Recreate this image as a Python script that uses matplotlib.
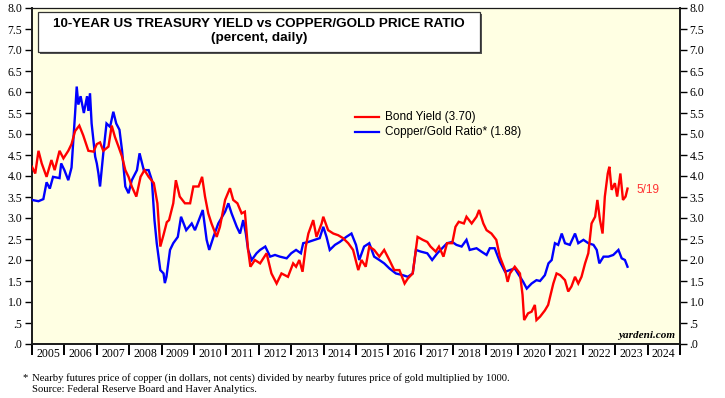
#!/usr/bin/env python3

import numpy as np
import matplotlib.pyplot as plt
from matplotlib.patches import Rectangle

# bond yield (percent), decimal year.
yield_t = [
    2005.0, 2005.1, 2005.2, 2005.3, 2005.45, 2005.6, 2005.7, 2005.85, 2005.97,
    2006.12, 2006.22, 2006.33, 2006.46, 2006.58, 2006.74, 2006.9,
    2007.0, 2007.1, 2007.2, 2007.36, 2007.46, 2007.56, 2007.67, 2007.78, 2007.88, 2007.98,
    2008.08, 2008.22, 2008.35, 2008.47, 2008.6, 2008.76, 2008.87, 2008.96,
    2009.06, 2009.16, 2009.23, 2009.36, 2009.44, 2009.56, 2009.72, 2009.88, 2009.98,
    2010.14, 2010.25, 2010.34, 2010.44, 2010.54, 2010.7, 2010.8, 2010.96,
    2011.11, 2011.21, 2011.34, 2011.47, 2011.57, 2011.67, 2011.74, 2011.88,
    2012.04, 2012.24, 2012.39, 2012.55, 2012.7, 2012.9,
    2013.06, 2013.15, 2013.25, 2013.35, 2013.45, 2013.53, 2013.68, 2013.78, 2013.94, 2013.99,
    2014.14, 2014.3, 2014.45, 2014.6, 2014.76, 2014.91,
    2015.07, 2015.17, 2015.3, 2015.41, 2015.56, 2015.72, 2015.87,
    2016.03, 2016.18, 2016.34, 2016.5, 2016.6, 2016.75, 2016.9,
    2017.06, 2017.2, 2017.3, 2017.46, 2017.56, 2017.7, 2017.81, 2017.97,
    2018.07, 2018.17, 2018.33, 2018.41, 2018.57, 2018.72, 2018.8, 2018.93,
    2019.03, 2019.18, 2019.33, 2019.44, 2019.6, 2019.68, 2019.75, 2019.9,
    2020.06, 2020.14, 2020.19, 2020.31, 2020.42, 2020.52, 2020.57, 2020.68, 2020.83, 2020.93,
    2021.09, 2021.19, 2021.3, 2021.45, 2021.55, 2021.65, 2021.76, 2021.86, 2021.96,
    2022.07, 2022.17, 2022.27, 2022.38, 2022.45, 2022.53, 2022.61, 2022.68, 2022.77, 2022.82,
    2022.89, 2022.99, 2023.06, 2023.16, 2023.24, 2023.32, 2023.38,
]
yield_v = [
    4.22, 4.06, 4.60, 4.30, 3.98, 4.38, 4.14, 4.60, 4.42,
    4.60, 4.76, 5.07, 5.20, 4.97, 4.60, 4.58,
    4.76, 4.80, 4.60, 4.70, 5.20, 4.93, 4.70, 4.46, 4.14, 3.98,
    3.75, 3.51, 3.98, 4.14, 3.98, 3.83, 3.35, 2.32,
    2.60, 2.90, 2.95, 3.35, 3.90, 3.51, 3.35, 3.35, 3.75,
    3.75, 3.98, 3.51, 3.11, 2.87, 2.55, 2.79, 3.43,
    3.71, 3.43, 3.35, 3.11, 3.15, 2.24, 1.84, 2.00,
    1.92, 2.16, 1.68, 1.44, 1.68, 1.60,
    1.92, 1.84, 2.00, 1.72, 2.32, 2.63, 2.95, 2.55, 2.87, 3.03,
    2.71, 2.63, 2.59, 2.52, 2.40, 2.24,
    1.76, 2.00, 1.84, 2.32, 2.24, 2.08, 2.24,
    2.00, 1.76, 1.76, 1.44, 1.56, 1.68, 2.55,
    2.48, 2.43, 2.32, 2.20, 2.32, 2.08, 2.40, 2.40,
    2.79, 2.91, 2.87, 3.03, 2.87, 3.03, 3.19, 2.87,
    2.71, 2.63, 2.48, 2.08, 1.76, 1.48, 1.68, 1.84,
    1.68, 1.17, 0.57, 0.73, 0.77, 0.93, 0.57, 0.65, 0.80, 0.93,
    1.44, 1.68, 1.64, 1.52, 1.25, 1.37, 1.60, 1.44, 1.60,
    1.92, 2.16, 2.87, 3.03, 3.43, 2.95, 2.63, 3.51, 4.06, 4.22,
    3.67, 3.83, 3.51, 4.06, 3.43, 3.51, 3.70,
]

# copper/gold ratio, decimal year.
ratio_t = [
    2005.0, 2005.2, 2005.35, 2005.45, 2005.55, 2005.65, 2005.85, 2005.9,
    2006.0, 2006.12, 2006.22, 2006.33, 2006.38, 2006.43, 2006.5, 2006.6, 2006.7, 2006.74,
    2006.79, 2006.84, 2006.95,
    2007.0, 2007.05, 2007.1, 2007.2, 2007.3, 2007.41, 2007.51, 2007.6, 2007.7, 2007.78,
    2007.88, 2007.98,
    2008.08, 2008.24, 2008.32, 2008.45, 2008.6, 2008.7, 2008.78, 2008.85, 2008.96,
    2009.06, 2009.1, 2009.15, 2009.26, 2009.36, 2009.5, 2009.6, 2009.76, 2009.93,
    2010.03, 2010.19, 2010.27, 2010.39, 2010.47, 2010.6, 2010.75, 2010.96,
    2011.06, 2011.16, 2011.32, 2011.42, 2011.52, 2011.6, 2011.67, 2011.78, 2011.93,
    2012.04, 2012.2, 2012.35, 2012.5, 2012.65, 2012.86,
    2013.0, 2013.15, 2013.3, 2013.37, 2013.53, 2013.73, 2013.88, 2013.99,
    2014.09, 2014.19, 2014.35, 2014.5, 2014.7, 2014.86,
    2015.0, 2015.1, 2015.25, 2015.41, 2015.56, 2015.72, 2015.87,
    2016.03, 2016.23, 2016.44, 2016.6, 2016.75, 2016.85,
    2017.0, 2017.2, 2017.35, 2017.51, 2017.66, 2017.81, 2017.97,
    2018.1, 2018.26, 2018.41, 2018.51, 2018.72, 2018.87,
    2019.03, 2019.13, 2019.28, 2019.44, 2019.6, 2019.75, 2019.9,
    2020.06, 2020.16, 2020.27, 2020.42, 2020.57, 2020.68, 2020.83, 2020.94,
    2021.04, 2021.14, 2021.24, 2021.35, 2021.45, 2021.6, 2021.76, 2021.86,
    2022.02, 2022.17, 2022.33, 2022.43, 2022.51, 2022.64, 2022.79, 2022.94,
    2023.1, 2023.2, 2023.3, 2023.38,
]
ratio_v = [
    3.43, 3.40, 3.45, 3.85, 3.70, 3.98, 3.95, 4.30,
    4.14, 3.90, 4.20, 5.49, 6.13, 5.70, 5.90, 5.50, 5.90, 5.55,
    5.97, 5.25, 4.46,
    4.30, 4.06, 3.75, 4.54, 5.25, 5.17, 5.53, 5.25, 5.10, 4.60,
    3.75, 3.59,
    3.90, 4.14, 4.54, 4.14, 4.14, 3.90, 2.95, 2.40, 1.76,
    1.68, 1.45, 1.60, 2.24, 2.40, 2.55, 3.03, 2.71, 2.87,
    2.71, 3.03, 3.19, 2.48, 2.24, 2.55, 2.87, 3.15,
    3.35, 3.11, 2.79, 2.63, 2.95, 2.63, 2.24, 2.00, 2.16,
    2.24, 2.32, 2.08, 2.12, 2.08, 2.04,
    2.16, 2.24, 2.16, 2.40, 2.43, 2.48, 2.52, 2.79,
    2.55, 2.24, 2.36, 2.43, 2.55, 2.63,
    2.36, 2.00, 2.32, 2.40, 2.08, 2.00, 1.92,
    1.80, 1.68, 1.64, 1.60, 1.68, 2.24,
    2.20, 2.16, 2.00, 2.16, 2.28, 2.40, 2.43,
    2.36, 2.32, 2.48, 2.24, 2.28, 2.20,
    2.12, 2.28, 2.28, 1.96, 1.72, 1.76, 1.80,
    1.60, 1.48, 1.32, 1.44, 1.52, 1.50, 1.64, 1.92,
    2.00, 2.40, 2.36, 2.63, 2.40, 2.36, 2.63, 2.40,
    2.48, 2.40, 2.36, 2.24, 1.92, 2.08, 2.08, 2.12,
    2.24, 2.04, 2.00, 1.84,
]

years = list(range(2005, 2025))
y_ticks = [0.0, 0.5, 1.0, 1.5, 2.0, 2.5, 3.0, 3.5, 4.0, 4.5, 5.0, 5.5, 6.0, 6.5, 7.0, 7.5, 8.0]
y_labels = [".0", ".5", "1.0", "1.5", "2.0", "2.5", "3.0", "3.5", "4.0", "4.5",
            "5.0", "5.5", "6.0", "6.5", "7.0", "7.5", "8.0"]

SANS = "Liberation Sans"
SERIF = "Liberation Serif"

# set up figure and axes.
fig = plt.figure(figsize=(7.25, 3.98), dpi=100)
ax = fig.add_axes([32 / 725, 1 - 344 / 398, 648 / 725, 336 / 398])
ax.set_facecolor("#FFFFE3")
ax.set_xlim(2005, 2025)
ax.set_ylim(0, 8)

# series.
ax.plot(ratio_t, ratio_v, color="#0000FF", lw=1.7, solid_joinstyle="miter", zorder=3)
ax.plot(yield_t, yield_v, color="#FF0000", lw=1.7, solid_joinstyle="miter", zorder=4)

# spines.
for side in ["left", "right", "bottom", "top"]:
    ax.spines[side].set_linewidth(1.4 if side != "top" else 0.9)
    ax.spines[side].set_color("#1a1a1a")

# y axis on both sides.
ax.set_yticks(y_ticks)
ax.set_yticklabels(y_labels, fontfamily=SERIF, fontsize=8.5)
ax.tick_params(axis="y", which="major", direction="out", length=5, width=1.0,
               left=True, right=True, labelleft=True, labelright=True, pad=2)

# x axis: ticks at year boundaries, labels mid-year.
ax.set_xticks(years + [2025])
ax.set_xticklabels([])
ax.set_xticks([y + 0.5 for y in years], minor=True)
ax.set_xticklabels([str(y) for y in years], minor=True, fontfamily=SERIF, fontsize=8.5)
ax.tick_params(axis="x", which="major", direction="out", length=8, width=1.4)
ax.tick_params(axis="x", which="minor", length=0, pad=3)

# title box with slight shadow.
shadow = Rectangle((39.5 / 725, 1 - 53.5 / 398), 442 / 725, 40 / 398, transform=fig.transFigure,
                   facecolor="#555555", edgecolor="none", zorder=4)
fig.patches.append(shadow)
box = Rectangle((38 / 725, 1 - 52 / 398), 442 / 725, 40 / 398, transform=fig.transFigure,
                facecolor="white", edgecolor="#333333", lw=0.9, zorder=5)
fig.patches.append(box)
fig.text(259 / 725, 1 - 24 / 398, "10-YEAR US TREASURY YIELD vs COPPER/GOLD PRICE RATIO",
         ha="center", va="center", fontsize=9.7, fontweight="bold", fontfamily=SANS, zorder=6)
fig.text(259 / 725, 1 - 38 / 398, "(percent, daily)",
         ha="center", va="center", fontsize=9.7, fontweight="bold", fontfamily=SANS, zorder=6)

# legend.
ax.plot([2014.98, 2015.7], [5.4, 5.4], color="#FF0000", lw=1.6)
ax.text(2015.9, 5.4, "Bond Yield (3.70)", ha="left", va="center", fontsize=8.5, fontfamily=SANS)
ax.plot([2014.98, 2015.7], [5.05, 5.05], color="#0000FF", lw=1.6)
ax.text(2015.9, 5.05, "Copper/Gold Ratio* (1.88)", ha="left", va="center", fontsize=8.5, fontfamily=SANS)

# end-date label and watermark.
ax.text(2023.65, 3.67, "5/19", color="#FF3333", ha="left", va="center", fontsize=8.5, fontfamily=SANS)
ax.text(2024.85, 0.2, "yardeni.com", ha="right", va="center", fontsize=8,
        fontweight="bold", fontstyle="italic", fontfamily=SERIF)

# footnotes.
fig.text(22 / 725, 1 - 378 / 398, "*", ha="left", va="center", fontsize=7.7, fontfamily=SERIF)
fig.text(32 / 725, 1 - 378 / 398,
         "Nearby futures price of copper (in dollars, not cents) divided by nearby futures price of gold multiplied by 1000.",
         ha="left", va="center", fontsize=7.7, fontfamily=SERIF)
fig.text(32 / 725, 1 - 390 / 398, "Source: Federal Reserve Board and Haver Analytics.",
         ha="left", va="center", fontsize=7.7, fontfamily=SERIF)

fig.savefig("out.png", dpi=100)
